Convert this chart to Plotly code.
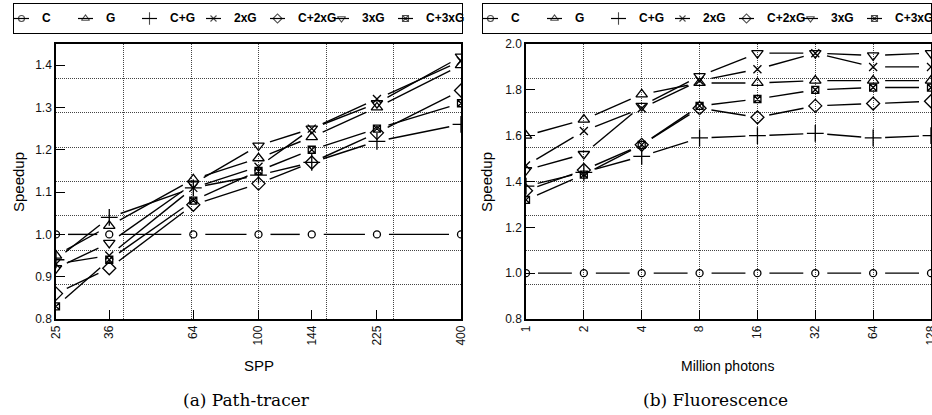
import math
import plotly.graph_objects as go

# ---------------- data ----------------
series_names = ["C", "G", "C+G", "2xG", "C+2xG", "3xG", "C+3xG"]
symbols = ["circle-open", "triangle-up-open", "cross-thin-open", "x-thin-open",
           "diamond-open", "triangle-down-open", "square-x-open"]
sizes = [7, 10, 12, 8, 10, 10, 7]
legend_sizes = [6, 7, 9, 6, 7, 7, 6]

spp = [25, 36, 64, 100, 144, 225, 400]
spp_labels = ["25", "36", "64", "100", "144", "225", "400"]
path_C = [1.00, 1.00, 1.00, 1.00, 1.00, 1.00, 1.00]
path_G = [0.95, 1.02, 1.13, 1.18, 1.23, 1.30, 1.40]
path_CG = [0.94, 1.04, 1.11, 1.14, 1.17, 1.22, 1.26]
path_2xG = [0.93, 0.95, 1.11, 1.16, 1.25, 1.32, 1.41]
path_C2xG = [0.86, 0.92, 1.07, 1.12, 1.17, 1.24, 1.34]
path_3xG = [0.92, 0.98, 1.12, 1.21, 1.25, 1.31, 1.42]
path_C3xG = [0.83, 0.94, 1.08, 1.15, 1.20, 1.25, 1.31]

photons = [1, 2, 4, 8, 16, 32, 64, 128]
photon_labels = ["1", "2", "4", "8", "16", "32", "64", "128"]
fl_C = [1.00, 1.00, 1.00, 1.00, 1.00, 1.00, 1.00, 1.00]
fl_G = [1.60, 1.67, 1.78, 1.83, 1.83, 1.84, 1.84, 1.84]
fl_CG = [1.38, 1.44, 1.51, 1.59, 1.60, 1.61, 1.59, 1.60]
fl_2xG = [1.47, 1.62, 1.72, 1.84, 1.89, 1.96, 1.90, 1.90]
fl_C2xG = [1.36, 1.45, 1.56, 1.72, 1.68, 1.73, 1.74, 1.75]
fl_3xG = [1.45, 1.52, 1.73, 1.86, 1.96, 1.96, 1.95, 1.96]
fl_C3xG = [1.32, 1.43, 1.56, 1.73, 1.76, 1.80, 1.81, 1.81]

path_series = [path_C, path_G, path_CG, path_2xG, path_C2xG, path_3xG, path_C3xG]
fl_series = [fl_C, fl_G, fl_CG, fl_2xG, fl_C2xG, fl_3xG, fl_C3xG]

# ---------------- layout geometry ----------------
W, H = 932, 415
L_X = (56, 461)
R_X = (526, 931)
P_Y = (44, 319)  # top, bottom in px
PW = L_X[1] - L_X[0]
PH = P_Y[1] - P_Y[0]

L_XR = [math.log10(25) - 1e-6, math.log10(400) + 1e-6]
L_YR = [0.8, 1.45]
R_XR = [-1e-6, math.log10(128) + 1e-6]
R_YR = [0.8, 2.0]
GAP = 12

# legend boxes (px)
LEG_Y = (4, 33)
LEG_L = (14, 462)
LEG_R = (483, 931)
LEG_N = 7
LEG_SAMPLE = 15   # px sample length
LEG_TEXT = 26     # px from entry start to text


def gapped(xs, ys, xr, yr):
    """Line segments between points, shortened by GAP px at each end."""
    ox, oy = [], []
    for i in range(len(xs) - 1):
        px0 = (math.log10(xs[i]) - xr[0]) / (xr[1] - xr[0]) * PW
        px1 = (math.log10(xs[i + 1]) - xr[0]) / (xr[1] - xr[0]) * PW
        py0 = (ys[i] - yr[0]) / (yr[1] - yr[0]) * PH
        py1 = (ys[i + 1] - yr[0]) / (yr[1] - yr[0]) * PH
        d = math.hypot(px1 - px0, py1 - py0)
        if d <= 2 * GAP:
            continue
        t = GAP / d
        for tt in (t, 1 - t):
            px = px0 + tt * (px1 - px0)
            py = py0 + tt * (py1 - py0)
            ox.append(10 ** (xr[0] + px / PW * (xr[1] - xr[0])))
            oy.append(yr[0] + py / PH * (yr[1] - yr[0]))
        ox.append(None)
        oy.append(None)
    return ox, oy


fig = go.Figure()

for xa, ya, xs, allys, xr, yr in [
    ("x", "y", spp, path_series, L_XR, L_YR),
    ("x2", "y2", photons, fl_series, R_XR, R_YR),
]:
    for name, sym, sz, ys in zip(series_names, symbols, sizes, allys):
        gx, gy = gapped(xs, ys, xr, yr)
        fig.add_trace(go.Scatter(
            x=gx, y=gy, mode="lines", xaxis=xa, yaxis=ya,
            line=dict(color="black", width=1.4), showlegend=False,
            hoverinfo="skip", connectgaps=False))
        fig.add_trace(go.Scatter(
            x=xs, y=ys, mode="markers", name=name, xaxis=xa, yaxis=ya,
            showlegend=False,
            marker=dict(symbol=sym, size=sz, color="black",
                        line=dict(color="black", width=1.3))))

# ---------------- custom boxed legends ----------------
legfont = dict(family="Liberation Sans", size=12, color="black", weight="bold")
for xa, ya, box in [("x3", "y3", LEG_L), ("x4", "y4", LEG_R)]:
    unit = (box[1] - box[0]) / LEG_N
    s = LEG_SAMPLE / unit
    tx = LEG_TEXT / unit
    for i, (name, sym, lsz) in enumerate(zip(series_names, symbols, legend_sizes)):
        fig.add_trace(go.Scatter(
            x=[i, i + s / 2, i + s], y=[0.5, 0.5, 0.5], mode="lines+markers",
            xaxis=xa, yaxis=ya, showlegend=False, hoverinfo="skip",
            cliponaxis=False,
            line=dict(color="black", width=1.2),
            marker=dict(symbol=sym, size=[0, lsz, 0], color="black",
                        line=dict(color="black", width=1.1))))
        fig.add_annotation(text=name, x=i + tx, y=0.5, xref=xa, yref=ya,
                           showarrow=False, xanchor="left", yanchor="middle",
                           font=legfont)

tickfont = dict(family="Liberation Sans", size=12, color="#111")
grid = dict(gridcolor="#444", griddash="1px,1px", gridwidth=1)


def ygrid(yr):
    return [yr[0] + k * (yr[1] - yr[0]) / 8 for k in range(1, 8)]


def xgrid(xr, n):
    return [10 ** (xr[0] + k * (xr[1] - xr[0]) / n) for k in range(1, n)]


common_ax = dict(showline=True, linecolor="black", linewidth=1.5, mirror=True,
                 ticks="inside", ticklen=9, tickwidth=1.2, tickcolor="black",
                 tickfont=tickfont, zeroline=False, automargin=False,
                 ticklabeloverflow="allow")

leg_ax = dict(showline=True, linecolor="black", linewidth=1, mirror=True,
              showgrid=False, zeroline=False, showticklabels=False, ticks="",
              fixedrange=True, automargin=False)

fig.update_layout(
    width=W, height=H, margin=dict(l=0, r=0, t=0, b=0, autoexpand=False),
    paper_bgcolor="white", plot_bgcolor="white", showlegend=False,
    xaxis=dict(domain=[L_X[0] / W, L_X[1] / W], type="log", range=L_XR,
               tickmode="array", tickvals=spp, ticktext=spp_labels,
               tickangle=-90, showgrid=False, anchor="y",
               minor=dict(tickmode="array", tickvals=xgrid(L_XR, 6), showgrid=True,
                          ticks="", **grid),
               **common_ax),
    yaxis=dict(domain=[1 - P_Y[1] / H, 1 - P_Y[0] / H], range=L_YR,
               tickmode="array", tickvals=[0.8, 0.9, 1.0, 1.1, 1.2, 1.3, 1.4],
               tickformat=".1f", showgrid=False, anchor="x",
               minor=dict(tickmode="array", tickvals=ygrid(L_YR), showgrid=True,
                          ticks="", **grid),
               **common_ax),
    xaxis2=dict(domain=[R_X[0] / W, R_X[1] / W], type="log", range=R_XR,
                tickmode="array", tickvals=photons, ticktext=photon_labels,
                tickangle=-90, showgrid=True, anchor="y2", **grid,
                **common_ax),
    yaxis2=dict(domain=[1 - P_Y[1] / H, 1 - P_Y[0] / H], range=R_YR,
                tickmode="array", tickvals=[0.8, 1.0, 1.2, 1.4, 1.6, 1.8, 2.0],
                tickformat=".1f", showgrid=False, anchor="x2",
                minor=dict(tickmode="array", tickvals=ygrid(R_YR), showgrid=True,
                           ticks="", **grid),
                **common_ax),
    xaxis3=dict(domain=[LEG_L[0] / W, LEG_L[1] / W], range=[0, LEG_N], anchor="y3", **leg_ax),
    yaxis3=dict(domain=[1 - LEG_Y[1] / H, 1 - LEG_Y[0] / H], range=[0, 1], anchor="x3", **leg_ax),
    xaxis4=dict(domain=[LEG_R[0] / W, LEG_R[1] / W], range=[0, LEG_N], anchor="y4", **leg_ax),
    yaxis4=dict(domain=[1 - LEG_Y[1] / H, 1 - LEG_Y[0] / H], range=[0, 1], anchor="x4", **leg_ax),
)

ann_font = dict(family="Liberation Sans", size=15, color="black")
cap_font = dict(family="DejaVu Serif", size=17, color="black")
annots = [
    dict(text="Speedup", x=18, y=182, textangle=-90, font=ann_font),
    dict(text="Speedup", x=486, y=182, textangle=-90, font=ann_font),
    dict(text="SPP", x=259, y=365, font=ann_font),
    dict(text="Million photons", x=727, y=366, font=dict(ann_font, size=14)),
    dict(text="(a) Path-tracer", x=246, y=400, font=cap_font),
    dict(text="(b) Fluorescence", x=715, y=400, font=cap_font),
]
for a in annots:
    fig.add_annotation(text=a["text"], x=a["x"] / W, y=1 - a["y"] / H,
                       xref="paper", yref="paper", showarrow=False,
                       textangle=a.get("textangle", 0), font=a["font"],
                       xanchor="center", yanchor="middle")

fig.write_html(
    "out.html",
    config={"displayModeBar": False},
    post_script="document.body.style.margin='0';document.body.style.padding='0';"
                "document.body.style.overflow='hidden';")
